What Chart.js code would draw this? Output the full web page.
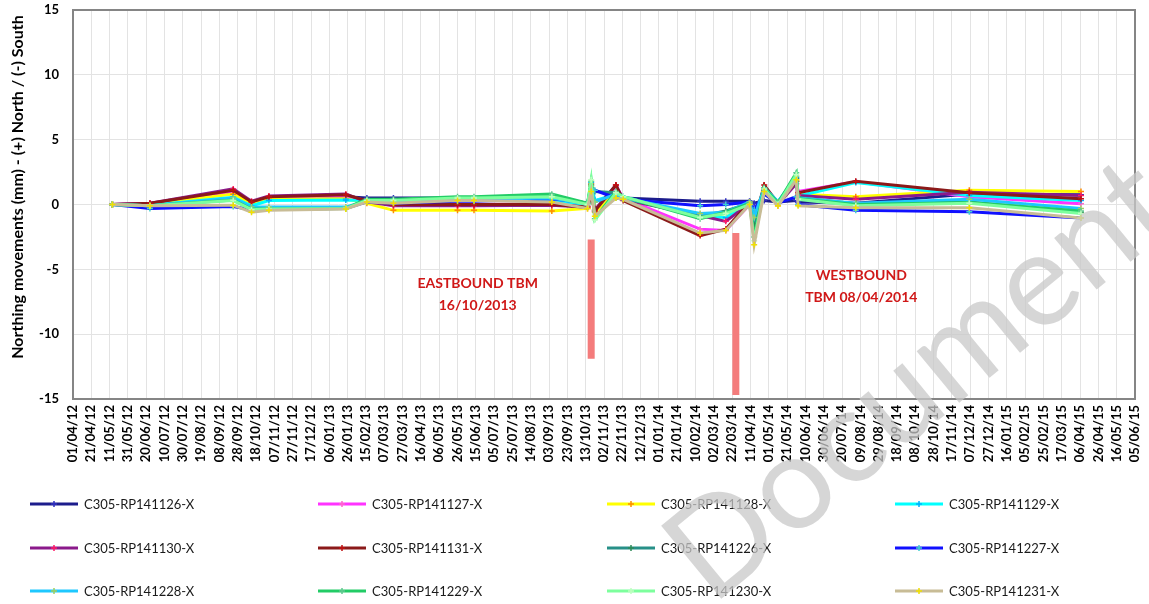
<!DOCTYPE html>
<html>
<head>
<meta charset="utf-8">
<script src="https://cdn.jsdelivr.net/npm/chart.js@4.4.1/dist/chart.umd.min.js"></script>
<style>
  html, body { margin: 0; padding: 0; background: #fff; }
  #wrap { width: 1149px; height: 604px; position: relative; }
</style>
</head>
<body>
<div id="wrap"><canvas id="northing"></canvas></div>
<script>
// axis starts 01/04/2012, ticks every 20 days
const axisStart = '2012-04-01';
const axisDays = 1160;

// survey dates
const readDates = ['2012-05-14','2012-06-24','2012-09-23','2012-10-13','2012-11-01','2013-01-24','2013-02-16',
  '2013-03-17','2013-05-26','2013-06-13','2013-09-06','2013-10-15','2013-10-19','2013-10-23','2013-11-15',
  '2013-11-23','2014-02-15','2014-03-15','2014-04-10','2014-04-15','2014-04-26','2014-05-11','2014-05-31',
  '2014-06-02','2014-08-04','2014-12-06','2015-04-07'];

const names = ['C305-RP141126-X','C305-RP141127-X','C305-RP141128-X','C305-RP141129-X',
  'C305-RP141130-X','C305-RP141131-X','C305-RP141226-X','C305-RP141227-X',
  'C305-RP141228-X','C305-RP141229-X','C305-RP141230-X','C305-RP141231-X'];

const lineColors = ['#1c1c8c','#ff33ff','#ffff00','#00ffff','#8b1a8b','#8b1a1a',
  '#279088','#1010ff','#1ec8ff','#22cc66','#7dff9d','#c8bc96'];
const markColors = ['#3030c0','#ff66cc','#ff8c00','#00b0ff','#ff1a66','#c01010',
  '#2e8b57','#40d0d0','#a0d060','#60c890','#c0ffc0','#f0e000'];

// northing movement (mm)
const rp126 = [0,0.05,0.9,0.2,0.5,0.6,0.5,0.5,0.5,0.5,0.55,0.1,0.4,0.3,0.6,0.5,0.25,0.25,0.25,0.1,0.3,0.2,0.3,0.2,0.1,0.8,0.75];
const rp127 = [0,0.05,1.0,0.15,0.55,0.65,0.3,0,0,0,0.05,-0.1,1.2,-0.5,1.4,0.5,-1.9,-2.0,0,-1.1,1.2,0,2.0,1.0,1.75,0.6,0.05];
const rp128 = [0,0,0.8,0.1,0.4,0.45,0.1,-0.45,-0.45,-0.45,-0.5,-0.3,1.6,-0.6,0.9,0.4,-0.8,-1.0,0.1,-0.8,1.2,-0.1,1.8,0.8,0.6,1.1,1.0];
const rp129 = [0,-0.05,0.55,-0.1,0.3,0.35,0.3,0.2,0.3,0.3,0.3,0,1.7,0.3,0.8,0.6,-0.9,-1.0,0.1,-1.4,1.3,0.2,2.1,0.65,1.7,0.7,0.3];
const rp130 = [0,0.1,1.2,0.25,0.65,0.8,0.2,-0.1,-0.1,-0.1,-0.05,-0.2,0.9,-0.4,1.5,0.4,-0.85,-1.3,0.1,-1.2,1.3,0,1.6,0.7,0.4,0.95,0.7];
const rp131 = [0,0.1,1.1,0.2,0.6,0.75,0.3,0,0,0,0,-0.2,0.6,-0.5,1.5,0.3,-2.4,-1.9,0.2,-1.4,1.5,0.1,1.8,0.9,1.8,0.9,0.45];
const rp226 = [0,-0.1,0.4,-0.3,-0.3,-0.3,0.35,0.35,0.5,0.5,0.6,0.1,1.5,1.0,0.9,0.5,-0.9,-0.5,0.1,-1.5,1.2,0.2,2.0,0.55,0.05,0.2,-0.6];
const rp227 = [0,-0.3,-0.15,-0.4,-0.35,-0.3,0.2,0.1,0.25,0.25,0.45,0.1,1.2,1.1,0.5,0.4,-0.1,0,0.2,-0.4,0.8,0.1,0.6,0,-0.45,-0.55,-1.05];
const rp228 = [0,-0.1,0.5,-0.2,-0.2,-0.2,0.3,0.2,0.4,0.4,0.5,0,1.4,0.2,0.8,0.5,-0.7,-0.6,0.2,-1.0,1.3,0.2,2.2,0.5,0.1,0.4,-0.3];
const rp229 = [0,-0.1,0.35,-0.35,-0.35,-0.3,0.4,0.4,0.6,0.6,0.8,0.1,1.8,-1.1,1.0,0.6,-1.1,-0.6,0.1,-2.5,1.3,0.1,2.45,0.45,0,0.15,-0.5];
const rp230 = [0,-0.1,0.3,-0.4,-0.35,-0.3,0.3,0.3,0.5,0.5,0.6,0,1.9,-1.2,0.9,0.6,-1.0,-0.7,0,-2.8,1.2,0,2.3,0.4,-0.1,0.1,-0.7];
const rp231 = [0,-0.1,-0.05,-0.6,-0.45,-0.35,0.2,0.1,0.3,0.3,0.2,-0.3,1.0,-0.9,0.5,0.4,-2.2,-2.0,0,-3.1,1.0,-0.1,1.9,-0.1,-0.25,-0.25,-1.05];
const seriesVals = [rp126,rp127,rp128,rp129,rp130,rp131,rp226,rp227,rp228,rp229,rp230,rp231];

// TBM marker bars and notes
const tbmDates = ['2013-10-19','2014-03-26'];
const tbmTop = [-2.7, -2.2];
const tbmBottom = [-11.9, -14.7];
const noteDates = ['2013-06-17','2014-08-10'];
const noteVals = [-6.1, -5.5];
const noteLines = [['EASTBOUND TBM','16/10/2013'],['WESTBOUND','TBM 08/04/2014']];
const yTitle = 'Northing movements (mm) - (+) North / (-) South';

const DAY = 86400000;
function toDay(s){
  const a = s.split('-').map(Number), b = axisStart.split('-').map(Number);
  return Math.round((Date.UTC(a[0],a[1]-1,a[2]) - Date.UTC(b[0],b[1]-1,b[2])) / DAY);
}
function dayLabel(v){
  const b = axisStart.split('-').map(Number);
  const d = new Date(Date.UTC(b[0],b[1]-1,b[2]) + v*DAY);
  const p = n => String(n).padStart(2,'0');
  return p(d.getUTCDate()) + '/' + p(d.getUTCMonth()+1) + '/' + p(d.getUTCFullYear()%100);
}

const FONT = 'Lato, "Open Sans", sans-serif';

document.addEventListener("DOMContentLoaded", function () {

const datasets = names.map((n, i) => ({
  label: n,
  data: readDates.map((d, k) => ({x: toDay(d), y: seriesVals[i][k]})),
  borderColor: lineColors[i],
  backgroundColor: lineColors[i],
  borderWidth: 3,
  pointStyle: 'cross',
  pointRadius: 3,
  pointBorderWidth: 1.5,
  pointBorderColor: markColors[i],
  tension: 0,
  order: names.length - i  // later series on top like excel
}));
// the two TBM bars
tbmDates.forEach((d, i) => {
  datasets.push({
    label: 'tbm' + i,
    data: [{x: toDay(d), y: tbmTop[i]}, {x: toDay(d), y: tbmBottom[i]}],
    borderColor: '#f47c7c',
    borderWidth: 7,
    pointRadius: 0,
    borderCapStyle: 'butt',
    order: 20
  });
});

// frame, y title, notes, legend and watermark
const extras = {
  id: 'extras',
  afterDatasetsDraw(chart){
    const c = chart.ctx, a = chart.chartArea;
    const xs = chart.scales.x, ys = chart.scales.y;
    c.save();
    c.strokeStyle = '#858585';
    c.lineWidth = 2;
    c.strokeRect(a.left, a.top, a.right - a.left, a.bottom - a.top);

    // y axis title
    c.save();
    c.translate(18, 187);
    c.rotate(-Math.PI / 2);
    c.fillStyle = '#000';
    c.font = 'bold 16px ' + FONT;
    c.textAlign = 'center';
    c.textBaseline = 'middle';
    c.fillText(yTitle, 0, 0);
    c.restore();

    c.fillStyle = '#d01818';
    c.font = 'bold 14px ' + FONT;
    c.textAlign = 'center';
    c.textBaseline = 'middle';
    noteLines.forEach((lines, i) => {
      const x = xs.getPixelForValue(toDay(noteDates[i]));
      const y = ys.getPixelForValue(noteVals[i]);
      lines.forEach((t, j) => c.fillText(t, x, y + j*22));
    });

    // legend 4 x 3
    const colX = [30, 318, 607, 895];
    const rowY = [504, 548, 591];
    c.textAlign = 'left';
    c.font = '13px ' + FONT;
    names.forEach((n, i) => {
      const x = colX[i % 4], y = rowY[Math.floor(i / 4)];
      c.strokeStyle = lineColors[i];
      c.lineWidth = 3;
      c.beginPath(); c.moveTo(x, y); c.lineTo(x + 48, y); c.stroke();
      c.strokeStyle = markColors[i];
      c.lineWidth = 1.5;
      c.beginPath(); c.moveTo(x + 24, y - 3); c.lineTo(x + 24, y + 3); c.moveTo(x + 21, y); c.lineTo(x + 27, y); c.stroke();
      c.fillStyle = '#1a1a1a';
      c.fillText(n, x + 54, y + 1);
    });

    // watermark
    c.translate(920, 380);
    c.rotate(-39.5 * Math.PI / 180);
    c.font = '132px ' + FONT;
    c.textAlign = 'center';
    c.fillStyle = 'rgba(200,200,200,0.75)';
    c.fillText('Document', 0, 0);
    c.restore();
  }
};

const ctx = document.getElementById('northing');
new Chart(ctx, {
  type: 'line',
  data: { datasets: datasets },
  options: {
    responsive: true,
    maintainAspectRatio: false,
    animation: false,
    layout: { padding: { top: 10, right: 14, left: 0, bottom: 0 } },
    plugins: { legend: { display: false }, tooltip: { enabled: false } },
    scales: {
      x: {
        type: 'linear',
        min: 0,
        max: axisDays,
        afterFit(s){ s.height = 205; s.paddingLeft = 0; s.paddingRight = 0; },
        grid: { color: '#e3e3e3', drawTicks: false },
        border: { display: false },
        ticks: {
          stepSize: 20,
          autoSkip: false,
          minRotation: 90,
          maxRotation: 90,
          padding: 6,
          color: '#000',
          font: { family: FONT, size: 13, weight: 'bold' },
          callback: v => dayLabel(v)
        }
      },
      y: {
        min: -15,
        max: 15,
        afterFit(s){ s.width = 73; s.paddingTop = 0; s.paddingBottom = 0; },
        grid: { color: '#e3e3e3', drawTicks: false },
        border: { display: false },
        ticks: {
          stepSize: 5,
          padding: 14,
          color: '#000',
          font: { family: FONT, size: 13, weight: 'bold' }
        }
      }
    }
  },
  plugins: [extras]
});
});
</script>
</body>
</html>
